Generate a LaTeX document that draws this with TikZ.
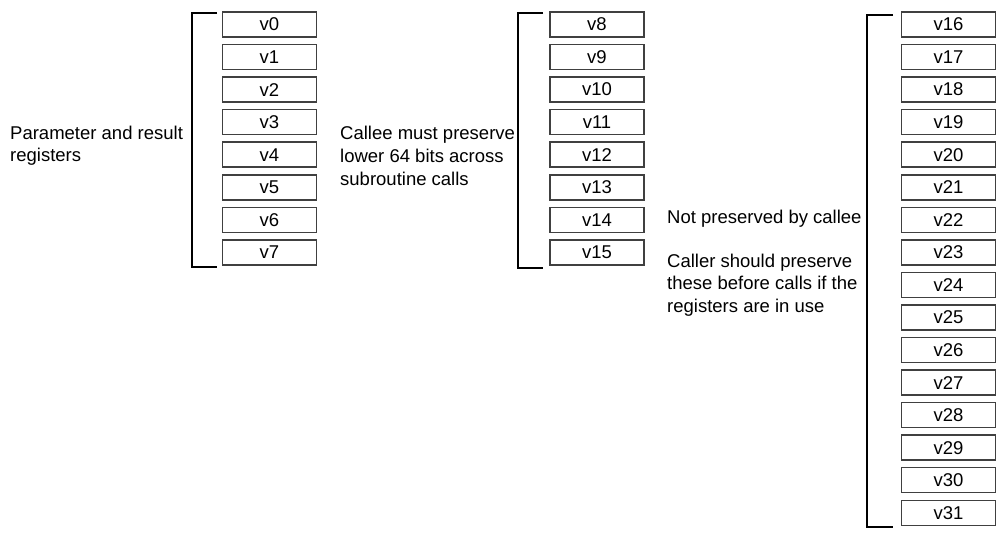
\documentclass[tikz,border=0pt]{standalone}
\usepackage{fontspec}
\setmainfont{Liberation Sans}
\begin{document}
\begin{tikzpicture}[x=1pt,y=-1pt,
  reg/.style={draw=black!75,line width=1.5pt,minimum width=94pt,minimum height=25pt,inner sep=0pt,font=\fontsize{18.5}{22}\selectfont},
  brk/.style={draw=black,line width=1.4pt},
  note/.style={anchor=north west,align=left,inner sep=0pt,font=\fontsize{18.5}{23}\selectfont}]
\useasboundingbox (0,0) rectangle (1007,539);
\foreach \i in {0,...,7}{
  \node[reg] (r\i) at (269.5,{24.5+32.55*\i}) {v\i};
}
\foreach \i in {8,...,15}{
  \node[reg] (r\i) at (597,{24.5+32.55*(\i-8)}) {v\i};
}
\foreach \i in {16,...,31}{
  \node[reg] (r\i) at (948.5,{24.5+32.55*(\i-16)}) {v\i};
}
% brackets
\draw[brk] (217,13) -- (192,13) -- (192,267) -- (217,267);
\draw[brk] (543,13) -- (518,13) -- (518,268) -- (543,268);
\draw[brk] (893,15) -- (867,15) -- (867,527) -- (893,527);
% notes
\node[note,font=\fontsize{18.5}{22}\selectfont] (n1) at (10,126) {Parameter and result\\registers};
\node[note] (n2) at (340,126) {Callee must preserve\\lower 64 bits across\\subroutine calls};
\node[note] (n3) at (667,209.5) {Not preserved by callee};
\node[note,font=\fontsize{18.5}{22.5}\selectfont] (n4) at (667,253.5) {Caller should preserve\\these before calls if the\\registers are in use};
\end{tikzpicture}
\end{document}
